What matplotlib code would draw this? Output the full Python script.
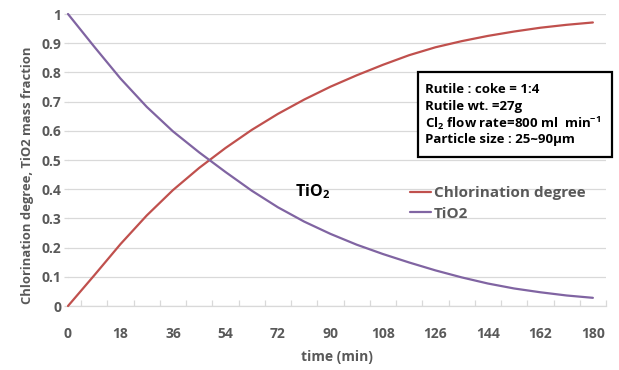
import matplotlib
matplotlib.use("Agg")
import matplotlib.pyplot as plt
from matplotlib.patches import Rectangle

plt.rcParams['font.family'] = ['Open Sans', 'DejaVu Sans']
plt.rcParams['mathtext.fontset'] = 'custom'
plt.rcParams['mathtext.rm'] = 'Open Sans:bold'
plt.rcParams['mathtext.bf'] = 'Open Sans:bold'
plt.rcParams['mathtext.default'] = 'bf'

time_min = [0, 9, 18, 27, 36, 45, 54, 63, 72, 81, 90, 99, 108, 117, 126,
            135, 144, 153, 162, 171, 180]
chlorination = [0.0, 0.105, 0.212, 0.31, 0.397, 0.473, 0.541, 0.603, 0.658, 0.707,
                0.751, 0.79, 0.826, 0.859, 0.886, 0.907, 0.925, 0.94, 0.953,
                0.963, 0.971]
tio2 = [1.0, 0.888, 0.779, 0.682, 0.598, 0.526, 0.459, 0.395, 0.338, 0.289, 0.247,
        0.21, 0.178, 0.149, 0.122, 0.098, 0.077, 0.06, 0.047, 0.036, 0.028]
x_labels = [0, 18, 36, 54, 72, 90, 108, 126, 144, 162, 180]
y_ticks = [0, 0.1, 0.2, 0.3, 0.4, 0.5, 0.6, 0.7, 0.8, 0.9, 1.0]
y_labels = ['0', '0.1', '0.2', '0.3', '0.4', '0.5', '0.6', '0.7', '0.8', '0.9', '1']

W, H = 619, 370
fig = plt.figure(figsize=(W / 100, H / 100), dpi=100)
ax = fig.add_axes([68 / W, (H - 306) / H, (606 - 68) / W, (306 - 14) / H])

gray = '#595959'
red = '#C0504D'
purple = '#8064A2'

ax.plot(time_min, chlorination, color=red, lw=1.6, label='Chlorination degree',
        solid_capstyle='round', solid_joinstyle='round', clip_on=False, zorder=3)
ax.plot(time_min, tio2, color=purple, lw=1.6, label='TiO2',
        solid_capstyle='round', solid_joinstyle='round', clip_on=False, zorder=3)

ax.set_xlim(0, 184.5)
ax.set_ylim(0, 1)
ax.set_xticks(x_labels)
ax.set_xticklabels([str(v) for v in x_labels])
ax.set_xticks([4.5 + 9 * k for k in range(21)], minor=True)
ax.set_yticks(y_ticks)
ax.set_yticklabels(y_labels)

ax.grid(axis='y', color='#D9D9D9', lw=0.9)
ax.set_axisbelow(True)
for s in ['top', 'right', 'left']:
    ax.spines[s].set_visible(False)
ax.spines['bottom'].set_color('#D9D9D9')
ax.spines['bottom'].set_linewidth(0.9)

ax.tick_params(axis='x', which='major', length=0, pad=15, labelsize=10, labelcolor=gray)
ax.tick_params(axis='x', which='minor', direction='in', length=4.5, color='#D9D9D9', width=0.9)
ax.tick_params(axis='y', length=3, color='#D9D9D9', width=0.9, pad=2,
               labelsize=10, labelcolor=gray)
for lab in ax.get_xticklabels() + ax.get_yticklabels():
    lab.set_fontweight('bold')

fig.text(337 / W, (H - 357) / H, 'time (min)', ha='center', va='center',
         fontsize=10, fontweight='bold', color=gray)
fig.text(27 / W, (H - 175) / H, 'Chlorination degree, TiO2 mass fraction',
         rotation=90, ha='center', va='center', fontsize=9.4, fontweight='bold', color=gray)

leg = ax.legend(loc='center left',
                bbox_to_anchor=((410 - 68) / (606 - 68), (306 - 203.5) / 292),
                frameon=False, handlelength=1.4, handletextpad=0.15, labelspacing=0.4,
                borderpad=0, borderaxespad=0,
                prop={'weight': 'bold', 'size': 11})
for t in leg.get_texts():
    t.set_color(gray)

fig.text(295 / W, (H - 192) / H, 'TiO$_2$', ha='left', va='center', fontsize=11.5,
         fontweight='bold', color='black')

fig.add_artist(Rectangle((418 / W, (H - 157) / H), (611.5 - 418) / W, (157 - 71.5) / H,
                         transform=fig.transFigure, facecolor='white', edgecolor='black',
                         lw=1.6, zorder=5))
box_lines = ['Rutile : coke = 1:4', 'Rutile wt. =27g',
             'Cl$_2$ flow rate=800 ml  min$^{-1}$', 'Particle size : 25~90μm']
for i, s in enumerate(box_lines):
    fig.text(425 / W, (H - (89.3 + 16.9 * i)) / H, s, ha='left', va='center', fontsize=9.5,
             fontweight='bold', color='black', zorder=6)

fig.savefig('out.png', dpi=100)
